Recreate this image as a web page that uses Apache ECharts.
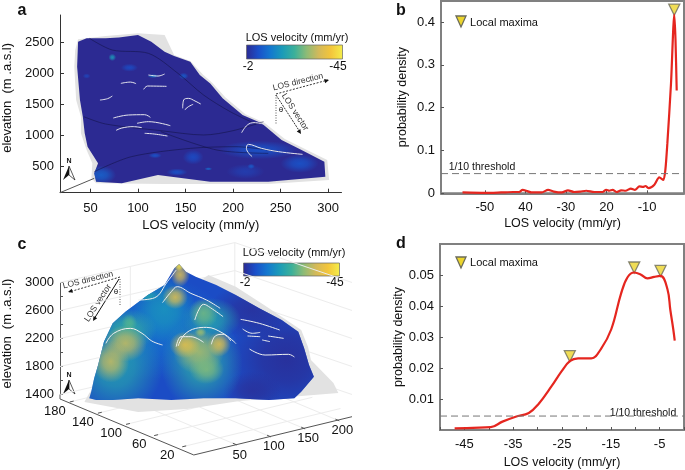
<!DOCTYPE html>
<html>
<head>
<meta charset="utf-8">
<style>
  html, body { margin: 0; padding: 0; background: #fff; }
  #chart { width: 685px; height: 470px; }
</style>
<script src="https://cdn.jsdelivr.net/npm/echarts@6/dist/echarts.min.js"></script>
</head>
<body>
<div id="chart"></div>
<script>
// panel a: outline of the surface, x = distance, y = elevation (m)
const surfAX = [37, 46, 66, 80, 100, 114, 128, 138, 155, 165, 176, 189, 210, 230, 251, 272, 296, 297, 237, 176, 121, 83, 56, 54, 58, 47, 44, 42, 39, 36]
const surfAY = [2516, 2570, 2570, 2586, 2624, 2516, 2354, 2284, 2192, 1976, 1840, 1597, 1327, 1192, 922, 759, 570, 327, 246, 246, 354, 219, 246, 381, 543, 813, 1030, 1300, 1570, 2111]
const haloAX = [34, 37, 66, 100, 128, 138, 155, 168, 178, 192, 213, 233, 254, 275, 299, 301, 237, 128, 56, 51, 52, 46, 40, 40, 35, 33]
const haloAY = [2381, 2554, 2608, 2651, 2624, 2300, 2203, 1990, 1850, 1610, 1340, 1200, 940, 780, 597, 273, 208, 208, 219, 300, 543, 759, 1030, 1300, 1570, 2111]
// velocity patches: x, elevation, spread x, spread elevation, mm/yr
const patchesA = [
  [227, 760, 42, 150, -8], [270, 540, 20, 150, -8], [213, 410, 20, 120, -5], [61, 354, 16, 150, -10],
  [158, 643, 11, 120, -7], [141, 400, 11, 60, -8], [91, 2095, 9, 65, -7], [148, 1959, 5, 54, -9],
  [46, 1959, 4, 43, -6], [118, 670, 7, 43, -8], [174, 454, 4, 27, -11], [219, 494, 4, 43, -9],
  [116, 1959, 6, 32, -14], [73, 2262, 4, 60, -18]
]
const ridgesA = [
  [[82, 92, 98], [1840, 1861, 1835]],
  [[111, 121, 128], [1976, 1959, 1992]],
  [[106, 110, 130], [1743, 1797, 1792]],
  [[60, 68, 73], [1570, 1592, 1635]],
  [[74, 90, 107, 113], [1278, 1327, 1332, 1289]],
  [[77, 83, 95, 104], [1078, 1116, 1138, 1122]],
  [[99, 111, 134], [1192, 1219, 1154]],
  [[107, 117, 131], [1030, 1019, 986]],
  [[147, 148, 153, 160, 166], [1435, 1570, 1597, 1554, 1505]],
  [[149, 153, 158], [1408, 1462, 1500]],
  [[209, 215, 222, 232], [1040, 1165, 1203, 1181]],
  [[220, 214, 216, 230, 248, 273], [651, 786, 851, 786, 732, 689]]
]
const faultsA = [
  [[49, 73, 111, 142, 169, 197, 224], [2570, 2381, 2327, 2003, 1651, 1381, 1181]],
  [[43, 66, 124, 169, 200, 232], [1300, 1181, 1073, 1003, 1073, 1219]],
  [[54, 93, 155, 203, 248], [408, 651, 786, 813, 732]],
  [[124, 183, 237], [1057, 759, 705]]
]
const ticksAX = [50, 100, 150, 200, 250, 300]
const ticksAY = [500, 1000, 1500, 2000, 2500]

// panel b: probability density
const velB = [-55.5, -50, -46, -43, -41.5, -40.7, -39.5, -38.5, -36, -34.4, -33, -31, -29.5, -28, -26.5, -25, -23, -21, -20.1, -19.3, -18.5, -17.5, -16.4, -15.3, -14, -13, -11.9, -11, -10.4, -9.6, -8.2, -7, -6, -5.5, -5, -4.1, -3.3, -3, -2.7]
const denB = [0.002, 0.001, 0.002, 0.003, 0.003, 0.008, 0.005, 0.002, 0.002, 0.008, 0.004, 0.002, 0.007, 0.003, 0.004, 0.006, 0.003, 0.003, 0.008, 0.006, 0.008, 0.003, 0.007, 0.006, 0.011, 0.008, 0.016, 0.015, 0.017, 0.012, 0.02, 0.037, 0.031, 0.054, 0.117, 0.257, 0.417, 0.36, 0.24]
const maxVelB = [-3.3]
const maxDenB = [0.417]
const ticksBX = [-50, -40, -30, -20, -10]
const labelsBX = ['-50', '40', '-30', '20', '-10']
const ticksBY = [0, 0.1, 0.2, 0.3, 0.4]
const thresholdB = 0.046

// panel c: surface in the view plane, u = horizontal screen axis, y = elevation (m)
const surfCU = [83, 85, 88, 92, 98, 107, 120, 143, 160, 170, 175, 182, 192, 213, 233, 257, 280, 297, 303, 308, 313, 300, 293, 267, 233, 200, 167, 133, 107, 90]
const surfCY = [1345, 1440, 1631, 1821, 2155, 2417, 2583, 2821, 2964, 3202, 3264, 3155, 3083, 2964, 2821, 2631, 2464, 2298, 2060, 1821, 1655, 1440, 1345, 1321, 1345, 1345, 1321, 1345, 1321, 1321]
const haloCU = [83, 78, 133, 183, 237, 338, 333, 310, 307, 300, 262, 233, 205, 170]
const haloCY = [1421, 1293, 1150, 1193, 1307, 1421, 1564, 1893, 2079, 2321, 2680, 2940, 3107, 2750]
// velocity patches: u, elevation, spread u, spread elevation, mm/yr
const patchesC = [
  [285, 1900, 62, 800, -2.5], [250, 1450, 30, 280, -3], [250, 2600, 45, 400, -3],
  [150, 2350, 75, 750, -12], [110, 1800, 48, 720, -20], [198, 1850, 42, 680, -21],
  [160, 2620, 32, 480, -17], [208, 2480, 30, 300, -20], [122, 2330, 30, 300, -22],
  [120, 2130, 22, 260, -33], [105, 1870, 19, 300, -33], [195, 2010, 26, 320, -31], [181, 2110, 16, 190, -37],
  [216, 2120, 12, 180, -36], [203, 1760, 18, 210, -28], [171, 2790, 13, 170, -36], [176, 3110, 10, 170, -35],
  [175, 3230, 5, 70, -43], [200, 2560, 15, 220, -27], [197, 2290, 6, 70, -30], [124, 2420, 8, 130, -25], [143, 2810, 11, 90, -20]
]
const ridgesC = [
  [[100, 108, 125, 137, 147, 158], [2131, 2274, 2345, 2274, 2164, 2107]],
  [[133, 150, 163, 172], [2750, 2783, 3012, 3178]],
  [[158, 167, 173, 187, 203, 217], [2712, 2869, 2940, 2845, 2750, 2631]],
  [[191, 195, 200, 207, 220], [2464, 2607, 2688, 2640, 2512]],
  [[172, 177, 187, 200], [2083, 2226, 2226, 2145]],
  [[174, 180, 192, 203, 220, 233], [2093, 2250, 2345, 2359, 2274, 2131]],
  [[208, 212, 220, 228], [2117, 2236, 2260, 2164]],
  [[238, 257, 278], [2474, 2417, 2321]],
  [[240, 250, 258], [2336, 2274, 2288]],
  [[245, 258], [2236, 2226]],
  [[266, 282], [2236, 2202]],
  [[260, 268], [2179, 2155]],
  [[247, 263, 287, 293], [2050, 1964, 1974, 1936]]
]
const ticksCY = [1400, 1800, 2200, 2600, 3000]
const ticksCX = [50, 100, 150, 200]
const ticksCDepth = [20, 60, 100, 140, 180]

// panel d
const velD = [-47, -43.3, -39.6, -37.2, -34.5, -31.8, -29.8, -27.1, -25.1, -23.4, -21.7, -19, -17, -14.9, -12.9, -11.6, -10.2, -8.9, -7.5, -6.1, -4.8, -3.4, -2.8, -2.2, -1.9]
const denD = [0.0005, 0.0007, 0.0009, 0.0027, 0.0043, 0.0055, 0.0084, 0.0142, 0.0189, 0.0222, 0.0231, 0.0231, 0.0262, 0.0325, 0.044, 0.0492, 0.0508, 0.0502, 0.0489, 0.0494, 0.0497, 0.0455, 0.0387, 0.0325, 0.0288]
const maxVelD = [-23.4, -10.2, -4.8]
const maxDenD = [0.0222, 0.0508, 0.0497]
const ticksDX = [-45, -35, -25, -15, -5]
const ticksDY = [0.01, 0.02, 0.03, 0.04, 0.05]
const thresholdD = 0.0045

const font = '"Liberation Sans", Arial, sans-serif'
const ramp = ['#2c2a92', '#1a4fc9', '#1478cf', '#1b9bb8', '#3bb09a', '#8dbb76', '#d3b95a', '#f3c53b', '#f4ee4a']

const hexToRgb = (hex) => [1, 3, 5].map(i => parseInt(hex.slice(i, i + 2), 16))

// mm/yr -> colour on the -2..-45 scale
const velColor = (v, alpha) => {
  const t = Math.min(1, Math.max(0, (v + 2) / -43)) * (ramp.length - 1)
  const i = Math.min(ramp.length - 2, Math.floor(t))
  const a = hexToRgb(ramp[i])
  const b = hexToRgb(ramp[i + 1])
  const c = a.map((x, k) => Math.round(x + (b[k] - x) * (t - i)))
  return `rgba(${c[0]},${c[1]},${c[2]},${alpha})`
}

const polygonSeries = (gi, xs, ys, fill) => ({
  type: 'custom', xAxisIndex: gi, yAxisIndex: gi, silent: true,
  data: [[xs[0], ys[0]]],
  renderItem: (params, api) => ({
    type: 'polygon',
    shape: { points: xs.map((x, i) => api.coord([x, ys[i]])) },
    style: { fill }
  })
})

// soft patch: unit circle scaled to the spread, clipped by the surface outline on the group
const patchSeries = (gi, patches, clipX, clipY) => ({
  type: 'custom', xAxisIndex: gi, yAxisIndex: gi, silent: true,
  data: patches,
  renderItem: (params, api) => {
    const [x, y, sx, sy, v] = patches[params.dataIndex]
    const c = api.coord([x, y])
    const e = api.coord([x + sx, y + sy])
    return {
      type: 'group',
      clipPath: { type: 'polygon', shape: { points: clipX.map((u, i) => api.coord([u, clipY[i]])) } },
      children: [{
        type: 'circle',
        x: c[0], y: c[1],
        scaleX: Math.abs(e[0] - c[0]), scaleY: Math.abs(e[1] - c[1]),
        shape: { cx: 0, cy: 0, r: 1 },
        style: {
          fill: new echarts.graphic.RadialGradient(0.5, 0.5, 0.5, [
            { offset: 0, color: velColor(v, 0.88) },
            { offset: 0.4, color: velColor(v, 0.68) },
            { offset: 1, color: velColor(v, 0) }
          ])
        }
      }]
    }
  }
})

const pathSeries = (gi, xs, ys, color, width, smooth) => ({
  type: 'line', xAxisIndex: gi, yAxisIndex: gi, silent: true, clip: false,
  symbol: 'none', smooth,
  lineStyle: { color, width },
  data: xs.map((x, i) => [x, ys[i]])
})

const densitySeries = (gi, xs, ys, smooth) => ({
  type: 'line', xAxisIndex: gi, yAxisIndex: gi, silent: true, symbol: 'none', smooth,
  lineStyle: { color: '#e5261f', width: 2.2 },
  data: xs.map((x, i) => [x, ys[i]])
})

const maximaSeries = (gi, xs, ys) => ({
  type: 'scatter', xAxisIndex: gi, yAxisIndex: gi, silent: true, clip: false,
  symbol: 'triangle', symbolRotate: 180, symbolSize: 11, symbolOffset: [0, -5],
  itemStyle: { color: '#ecd52c', borderColor: '#6b6b5a', borderWidth: 1.3 },
  data: xs.map((x, i) => [x, ys[i]])
})

const thresholdSeries = (gi, x0, x1, y) => ({
  type: 'line', xAxisIndex: gi, yAxisIndex: gi, silent: true, symbol: 'none',
  lineStyle: { color: '#777', width: 1, type: [7, 4] },
  data: [[x0, y], [x1, y]]
})

// oblique floor axes of panel c, drawn in the view plane
const floorX = (x) => [199 + x * 0.7, 565 + x * 2.29]
const floorDepth = (d) => [192.6 - d * 0.72, 573 + d * 4]

const boxLinesSeries = {
  type: 'custom', xAxisIndex: 2, yAxisIndex: 2, silent: true,
  data: [[232, 3570]],
  renderItem: (params, api) => {
    const line = (a, b) => {
      const p = api.coord(a)
      const q = api.coord(b)
      return { type: 'line', shape: { x1: p[0], y1: p[1], x2: q[0], y2: q[1] }, style: { stroke: '#ececec', lineWidth: 1 } }
    }
    const children = []
    ticksCY.forEach(e => {
      children.push(line([53, e], [232, e + 570]))
      children.push(line([232, e + 570], [352, e]))
    })
    children.push(line([232, 1940], [232, 3570]))
    children.push(line([125, 3230], [125, 2640]))
    ticksCX.forEach(v => {
      const p = floorX(v)
      children.push(line(p, [p[0] - 137, p[1] + 800]))
    })
    ticksCDepth.forEach(v => {
      const p = floorDepth(v)
      children.push(line(p, [p[0] + 162, p[1] + 547]))
    })
    return { type: 'group', children }
  }
}

const floorAxisSeries = {
  type: 'custom', xAxisIndex: 2, yAxisIndex: 2, silent: true,
  data: [[190, 536]],
  renderItem: (params, api) => {
    const line = (a, b, stroke) => {
      const p = api.coord(a)
      const q = api.coord(b)
      return { type: 'line', shape: { x1: p[0], y1: p[1], x2: q[0], y2: q[1] }, style: { stroke, lineWidth: 1 } }
    }
    const children = [
      line([190, 536], [352, 1083], '#555'),
      line([190, 536], [53, 1336], '#555'),
      line([53, 1336], [53, 1400], '#555')
    ]
    ticksCX.forEach(v => {
      const p = floorX(v)
      const c = api.coord(p)
      children.push(line(p, [p[0] - 4, p[1] + 25], '#555'))
      children.push({ type: 'text', style: { x: c[0] + 3, y: c[1] + 10, text: String(v), font: '13px ' + font, fill: '#111', align: 'center', verticalAlign: 'middle' } })
    })
    ticksCDepth.forEach(v => {
      const p = floorDepth(v)
      const c = api.coord(p)
      children.push(line(p, [p[0] + 4, p[1] + 13], '#555'))
      children.push({ type: 'text', style: { x: c[0] - 15, y: c[1] + 9, text: String(v), font: '13px ' + font, fill: '#111', align: 'center', verticalAlign: 'middle' } })
    })
    return { type: 'group', children }
  }
}

const plainAxisLabel = { fontFamily: font, fontSize: 13, color: '#111' }
const boxSide = { lineStyle: { color: '#808080', width: 2 } }

const chart = echarts.init(document.getElementById('chart'), null, { renderer: 'canvas' })

// fixed overlays: panel letters, legends, colour bars, LOS sketches
const text = (x, y, str, size, extra) => ({
  type: 'text', x, y, silent: true, rotation: (extra && extra.rot) || 0,
  style: { text: str, font: `${(extra && extra.weight) || 'normal'} ${size}px ${font}`, fill: (extra && extra.fill) || '#111', align: 'center', verticalAlign: 'middle' }
})
const seg = (x1, y1, x2, y2, stroke, dash, width) => ({
  type: 'line', silent: true, shape: { x1, y1, x2, y2 }, style: { stroke, lineWidth: width || 1, lineDash: dash || null }
})
const head = (x1, y1, x2, y2, fill) => {
  // small arrow head at x2,y2 pointing away from x1,y1
  const a = Math.atan2(y2 - y1, x2 - x1)
  const l = 5
  const pts = [[x2, y2], [x2 - l * Math.cos(a - 0.45), y2 - l * Math.sin(a - 0.45)], [x2 - l * Math.cos(a + 0.45), y2 - l * Math.sin(a + 0.45)]]
  return { type: 'polygon', silent: true, shape: { points: pts }, style: { fill } }
}
const north = (x, y) => [
  text(x + 1, y - 11, 'N', 7, { weight: 'bold' }),
  { type: 'polygon', silent: true, shape: { points: [[x + 1, y - 6], [x - 5, y + 8], [x + 1, y + 3]] }, style: { fill: '#111' } },
  { type: 'polygon', silent: true, shape: { points: [[x + 1, y - 6], [x + 7, y + 8], [x + 1, y + 3]] }, style: { fill: '#fff', stroke: '#111', lineWidth: 0.7 } }
]
const colorBar = (x, y, w, h) => ({
  type: 'rect', silent: true, shape: { x, y, width: w, height: h },
  style: {
    fill: new echarts.graphic.LinearGradient(0, 0, 1, 0, ramp.map((c, i) => ({ offset: i / (ramp.length - 1), color: c }))),
    stroke: '#666', lineWidth: 0.7
  }
})
const legendMark = (x, y) => ({
  type: 'polygon', silent: true, shape: { points: [[x - 5, y - 5], [x + 5, y - 5], [x, y + 6]] },
  style: { fill: '#ecd52c', stroke: '#6b6b5a', lineWidth: 1.3 }
})

const overlays = [
  text(22, 11, 'a', 16, { weight: 'bold' }), text(401, 11, 'b', 16, { weight: 'bold' }),
  text(22, 245, 'c', 16, { weight: 'bold' }), text(401, 244, 'd', 16, { weight: 'bold' }),
  text(297, 38, 'LOS velocity (mm/yr)', 11), colorBar(246.5, 45, 96, 14), text(248, 67, '-2', 12), text(338, 67, '-45', 12),
  text(294, 253, 'LOS velocity (mm/yr)', 11), colorBar(243.5, 263, 96, 13), text(245, 283, '-2', 12), text(335, 283, '-45', 12),
  // LOS sketch, panel a
  seg(276, 94, 328, 80, '#333', [2, 1.5]), head(276, 94, 329, 80, '#111'),
  seg(276, 95, 300, 132, '#333', [2, 1]), head(276, 95, 301, 134, '#111'),
  seg(276, 95, 276, 124, '#555', [1, 1.5]),
  text(298, 82, 'LOS direction', 8.5, { rot: 0.24, fill: '#333' }), text(295, 112, 'LOS vector', 8.5, { rot: -1.0, fill: '#333' }), text(281, 110, 'θ', 8),
  // LOS sketch, panel c
  seg(120, 277, 69, 292, '#333', [2, 1.5]), head(120, 277, 68, 292, '#111'),
  seg(119, 279, 94, 319, '#111'), head(119, 279, 93, 321, '#111'),
  seg(120, 279, 120, 306, '#555', [1, 1.5]),
  text(88, 280, 'LOS direction', 8.5, { rot: 0.24, fill: '#333' }), text(98, 303, 'LOS vector', 8.5, { rot: 1.0, fill: '#333' }), text(116, 292, 'θ', 8),
  ...north(68, 172), ...north(68, 386),
  // panel b, d legends and threshold labels
  legendMark(461, 21), text(504, 23, 'Local maxima', 11),
  legendMark(461, 262), text(504, 263, 'Local maxima', 11),
  text(482, 167, '1/10 threshold', 10.5), text(643, 413, '1/10 threshold', 10.5)
]

const option = {
  animation: false,
  backgroundColor: '#fff',
  graphic: { elements: overlays },
  grid: [
    { left: 53.5, top: 15, width: 288, height: 177.7 },
    { left: 441, top: 1, width: 243, height: 192.3, show: true, borderColor: '#808080', borderWidth: 2 },
    { left: 53, top: 282.5, width: 299, height: 112 },
    { left: 440, top: 244, width: 244, height: 191, show: true, borderColor: '#808080', borderWidth: 2 }
  ],
  xAxis: [
    {
      gridIndex: 0, type: 'value', min: 18, max: 314, interval: 50,
      name: 'LOS velocity (mm/y)', nameLocation: 'middle', nameGap: 26, nameTextStyle: { fontFamily: font, fontSize: 13, color: '#111' },
      axisLine: { onZero: false, lineStyle: { color: '#333' } },
      axisTick: { inside: true, length: 4, customValues: ticksAX, lineStyle: { color: '#333' } },
      axisLabel: { ...plainAxisLabel, customValues: ticksAX, margin: 9 },
      splitLine: { show: false }
    },
    {
      gridIndex: 1, type: 'value', min: -60.8, max: -0.9, interval: 10,
      name: 'LOS velocity (mm/yr)', nameLocation: 'middle', nameGap: 24, nameTextStyle: { fontFamily: font, fontSize: 12.5, color: '#111' },
      axisLine: { onZero: false, ...boxSide },
      axisTick: { inside: true, length: 3, customValues: ticksBX, lineStyle: { color: '#555' } },
      axisLabel: { ...plainAxisLabel, customValues: ticksBX, margin: 8, formatter: (v) => labelsBX[ticksBX.indexOf(v)] },
      splitLine: { show: false }
    },
    { gridIndex: 2, type: 'value', min: 53, max: 352, show: false, splitLine: { show: false } },
    {
      gridIndex: 3, type: 'value', min: -50, max: 0, interval: 5,
      name: 'LOS velocity (mm/yr)', nameLocation: 'middle', nameGap: 26, nameTextStyle: { fontFamily: font, fontSize: 12.5, color: '#111' },
      axisLine: { onZero: false, ...boxSide },
      axisTick: { inside: true, length: 3, lineStyle: { color: '#555' } },
      axisLabel: { ...plainAxisLabel, customValues: ticksDX, margin: 8 },
      splitLine: { show: false }
    }
  ],
  yAxis: [
    {
      gridIndex: 0, type: 'value', min: 67, max: 2949, interval: 500,
      name: 'elevation  (m .a.s.l)', nameLocation: 'middle', nameGap: 46,
      nameTextStyle: { fontFamily: font, fontSize: 13, color: '#111', padding: [0, 0, 0, 12] },
      axisLine: { onZero: false, lineStyle: { color: '#333' } },
      axisTick: { inside: true, length: 4, customValues: ticksAY, lineStyle: { color: '#333' } },
      axisLabel: { ...plainAxisLabel, customValues: ticksAY, margin: 6, formatter: (v) => String(v) },
      splitLine: { show: false }
    },
    {
      gridIndex: 1, type: 'value', min: 0, max: 0.449, interval: 0.1,
      name: 'probability density', nameLocation: 'middle', nameGap: 32, nameTextStyle: { fontFamily: font, fontSize: 12.5, color: '#111' },
      axisLine: { onZero: false, ...boxSide },
      axisTick: { inside: true, length: 3, customValues: ticksBY, lineStyle: { color: '#555' } },
      axisLabel: { ...plainAxisLabel, customValues: ticksBY, margin: 6, formatter: (v) => (v === 0 ? '0' : v.toFixed(1)) },
      splitLine: { show: false }
    },
    {
      gridIndex: 2, type: 'value', min: 1400, max: 3000, interval: 200,
      name: 'elevation  (m .a.s.l)', nameLocation: 'middle', nameGap: 46,
      nameTextStyle: { fontFamily: font, fontSize: 13, color: '#111', padding: [0, 0, 0, 10] },
      axisLine: { onZero: false, lineStyle: { color: '#555' } },
      axisTick: { inside: true, length: 3, lineStyle: { color: '#555' } },
      axisLabel: { ...plainAxisLabel, customValues: ticksCY, margin: 6, formatter: (v) => String(v) },
      splitLine: { show: false }
    },
    {
      gridIndex: 3, type: 'value', min: 0, max: 0.06, interval: 0.01,
      name: 'probability density', nameLocation: 'middle', nameGap: 32, nameTextStyle: { fontFamily: font, fontSize: 12.5, color: '#111' },
      axisLine: { onZero: false, ...boxSide },
      axisTick: { inside: true, length: 3, customValues: ticksDY, lineStyle: { color: '#555' } },
      axisLabel: { ...plainAxisLabel, customValues: ticksDY, margin: 6, formatter: (v) => v.toFixed(2) },
      splitLine: { show: false }
    }
  ],
  series: [
    pathSeries(0, [18, 54], [67, 300], '#555', 1, false),
    polygonSeries(0, haloAX, haloAY, '#e2e2e2'),
    polygonSeries(0, surfAX, surfAY, velColor(-2, 1)),
    patchSeries(0, patchesA, surfAX, surfAY),
    ...faultsA.map(f => pathSeries(0, f[0], f[1], 'rgba(18,18,70,0.7)', 0.8, 0.3)),
    ...ridgesA.map(r => pathSeries(0, r[0], r[1], '#e6e6ee', 1, 0.4)),

    densitySeries(1, velB, denB, 0.25),
    thresholdSeries(1, -60.8, -0.9, thresholdB),
    maximaSeries(1, maxVelB, maxDenB),

    boxLinesSeries,
    floorAxisSeries,
    polygonSeries(2, haloCU, haloCY, '#e2e2e2'),
    polygonSeries(2, surfCU, surfCY, velColor(-7, 1)),
    patchSeries(2, patchesC, surfCU, surfCY),
    ...ridgesC.map(r => pathSeries(2, r[0], r[1], '#eef0f0', 1, 0.4)),

    densitySeries(3, velD, denD, 0.4),
    thresholdSeries(3, -50, 0, thresholdD),
    maximaSeries(3, maxVelD, maxDenD)
  ]
}

chart.setOption(option)
</script>
</body>
</html>
